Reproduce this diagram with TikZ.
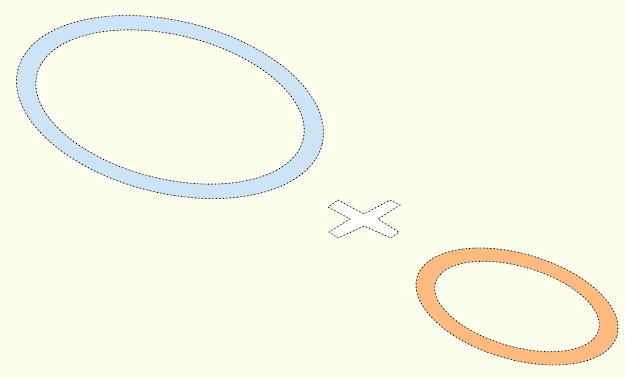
\documentclass[tikz,border=0pt]{standalone}
\begin{document}
\begin{tikzpicture}[x=1pt,y=1pt,
  outline/.style={draw=black,line width=0.8pt,dash pattern=on 0.9pt off 2.6pt},
  faint/.style={draw=black!35,line width=0.4pt}]
\definecolor{bg}{RGB}{255,255,238}
\definecolor{ringblue}{RGB}{204,228,245}
\definecolor{ringorange}{RGB}{255,186,128}
\fill[bg] (0,0) rectangle (625,378);
\useasboundingbox (0,0) rectangle (625,378);
% blue ring
\begin{scope}[rotate around={-13.7:(170,271)}]
  \fill[ringblue,even odd rule] (170,271) ellipse [x radius=156.6,y radius=86.1]
                                (170,271) ellipse [x radius=137,y radius=72];
  \foreach \s in {faint,outline}{
    \draw[\s] (170,271) ellipse [x radius=156.6,y radius=86.1];
    \draw[\s] (170,271) ellipse [x radius=137,y radius=72];}
\end{scope}
% orange ring
\begin{scope}[rotate around={-16.3:(517,71.5)}]
  \fill[ringorange,even odd rule] (517,71.5) ellipse [x radius=104.1,y radius=52.8]
                                  (517,71.5) ellipse [x radius=85,y radius=40];
  \foreach \s in {faint,outline}{
    \draw[\s] (517,71.5) ellipse [x radius=104.1,y radius=52.8];
    \draw[\s] (517,71.5) ellipse [x radius=85,y radius=40];}
\end{scope}
% cross
\path[fill=white] (338,178) -- (364,164) -- (390,178) -- (400,173) -- (378,159)
  -- (399,146) -- (391,140) -- (364,152) -- (338,140) -- (329,146) -- (350,159)
  -- (328,171) -- cycle;
\foreach \s in {faint,outline}
\draw[\s] (338,178) -- (364,164) -- (390,178) -- (400,173) -- (378,159)
  -- (399,146) -- (391,140) -- (364,152) -- (338,140) -- (329,146) -- (350,159)
  -- (328,171) -- cycle;
\end{tikzpicture}
\end{document}
